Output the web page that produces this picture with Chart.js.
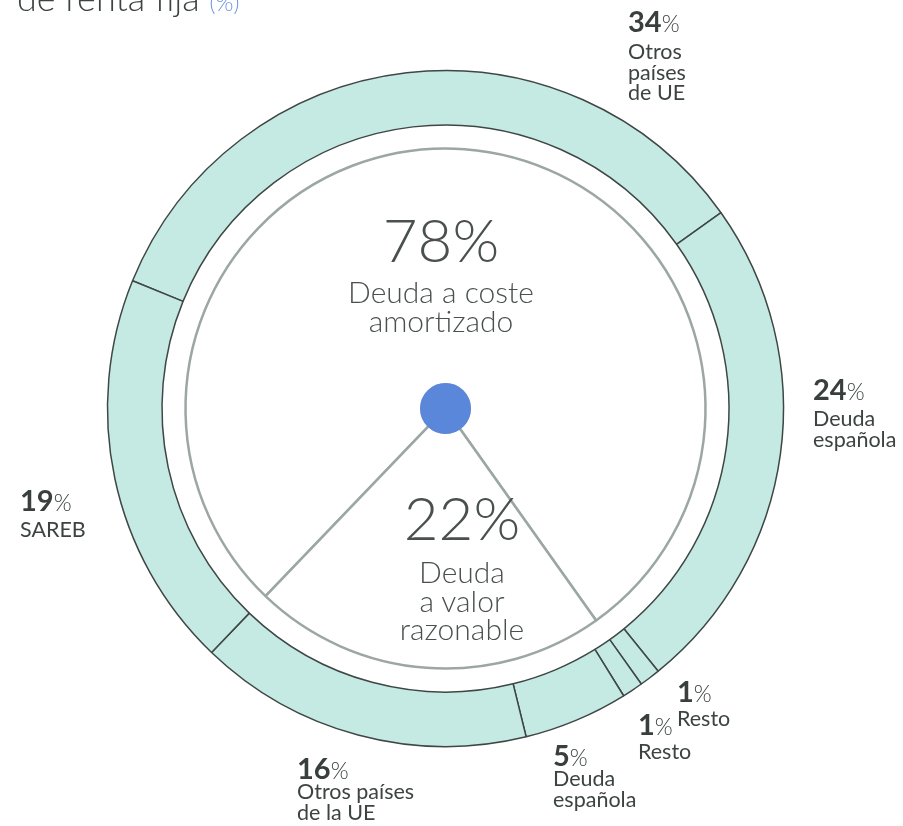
<!DOCTYPE html>
<html lang="es">
<head>
<meta charset="utf-8">
<title>Cartera de renta fija</title>
<script src="https://cdn.jsdelivr.net/npm/chart.js@4.4.1/dist/chart.umd.min.js"></script>
<style>
  html, body { margin: 0; padding: 0; background: #fff; }
  #wrap { position: relative; width: 903px; height: 826px; overflow: hidden; font-family: Lato, sans-serif; color: #3c4442; }
  #wrap canvas { position: absolute; left: 0; top: 0; }
  .t { position: absolute; white-space: nowrap; }
</style>
</head>
<body>
<div id="wrap"><canvas id="donut" width="903" height="826"></canvas></div>
<script>
// anillo exterior, en sentido horario empezando por "Otros países de UE"
const ringLabels = ['Otros\npaíses\nde UE', 'Deuda\nespañola', 'Resto', 'Resto', 'Deuda\nespañola', 'Otros países\nde la UE', 'SAREB'];
const ringValues = [34, 24, 1, 1, 5, 16, 19];

// círculo interior: criterio de valoración
const innerLabels = ['Deuda a coste\namortizado', 'Deuda\na valor\nrazonable'];
const innerValues = [78, 22];

// dónde va cada etiqueta: [x, línea base de la cifra, línea base del primer texto]
const ringLabelPos = [[628, 32, 60], [813, 400, 427], [677, 702, 727], [638, 735, 760],
                      [553, 766, 787], [297, 779, 800], [20, 511, 538]];
const innerLabelPos = [[441, 262, 303], [462, 540, 583]];

const ringRotation = -67.8;
// el 78 % empieza donde empieza SAREB
const innerRotation = ringRotation + 3.6 * ringValues.slice(0, 6).reduce((a, b) => a + b, 0);

new Chart(document.getElementById('donut'), {
  type: 'doughnut',
  data: {
    labels: ringLabels,
    datasets: [
      { data: ringValues, backgroundColor: '#c5eae4', borderColor: '#3f4745', borderWidth: 1.5,
        hoverBorderWidth: 1.5, weight: 54.5, rotation: ringRotation, order: 1 },
      // hueco blanco entre el anillo y el círculo
      { data: [1], backgroundColor: 'rgba(0,0,0,0)', borderWidth: 0, weight: 23.5, order: 1 },
      { data: innerValues, backgroundColor: '#ffffff', borderColor: '#9ca7a3', borderWidth: 2.5,
        hoverBorderWidth: 2.5, weight: 236, rotation: innerRotation, order: 1 },
      // punto azul del centro
      { data: [1], backgroundColor: '#5b87db', borderColor: '#5b87db', borderWidth: 3, weight: 24, order: 0 }
    ]
  },
  options: {
    responsive: false,
    animation: false,
    events: [],
    radius: 338,
    cutout: 0,
    layout: { padding: { left: 0, right: 12, top: 0, bottom: 9 } },
    plugins: { legend: { display: false }, tooltip: { enabled: false } }
  }
});

// textos
const wrap = document.getElementById('wrap');
const probe = document.createElement('canvas').getContext('2d');

function line(x, base, size, weight, html, centered, color) {
  const el = document.createElement('div');
  el.className = 't';
  el.style.fontSize = size + 'px';
  el.style.fontWeight = weight;
  el.style.lineHeight = size + 'px';
  if (color) el.style.color = color;
  probe.font = weight + ' ' + size + 'px Lato';
  const m = probe.measureText('Hg');
  const asc = m.fontBoundingBoxAscent, desc = m.fontBoundingBoxDescent;
  el.style.left = x + 'px';
  el.style.top = (base - ((size - asc - desc) / 2 + asc)) + 'px';
  if (centered) el.style.transform = 'translateX(-50%)';
  el.innerHTML = html;
  wrap.appendChild(el);
}

// título (la primera línea queda fuera)
line(17, 11, 36, 300, 'de renta fija <span style="font-size:23px;color:#6b93de">(%)</span>', false, '#3c4442');

ringValues.forEach((v, i) => {
  const [x, y, ty] = ringLabelPos[i];
  line(x, y, 29, 700, v + '<span style="font-size:23px;font-weight:300">%</span>', false, '#383f3d');
  ringLabels[i].split('\n').forEach((txt, k) => {
    line(x, ty + k * 20.5, 21.5, 400, txt, false, '#3c4442');
  });
});

innerValues.forEach((v, i) => {
  const [x, y, ty] = innerLabelPos[i];
  line(x, y, 60, 300, v + '%', true, '#4a504f');
  innerLabels[i].split('\n').forEach((txt, k) => {
    line(x, ty + k * 28.5, 30, 300, txt, true, '#4a504f');
  });
});
</script>
</body>
</html>
